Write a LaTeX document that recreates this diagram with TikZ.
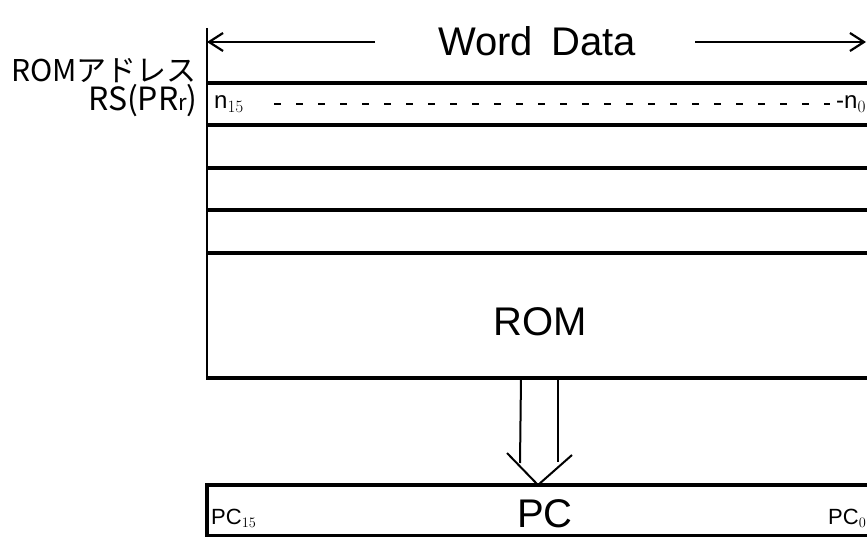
\documentclass[tikz,border=0pt]{standalone}
\usepackage{fontspec}
\setmainfont{Liberation Sans}
\newfontfamily\jpfont{Noto Sans CJK JP}
\usetikzlibrary{arrows.meta}
\tikzset{
  thickline/.style={line width=3.2pt},
  thinline/.style={line width=2pt},
  lbl/.style={inner sep=0pt, anchor=center},
  barb/.style={-{Straight Barb[length=14pt,width=18pt,line width=2.2pt]}, line width=2.2pt}
}
\begin{document}
\begin{tikzpicture}[x=1pt,y=-1pt]
\useasboundingbox (0,0) rectangle (867,537);
% coordinates
\coordinate (tl) at (207,28);
\coordinate (bl) at (207,378);
\coordinate (wl) at (207,42);
\coordinate (wr) at (866,42);
\coordinate (wlend) at (375,42);
\coordinate (wrend) at (695,42);
% left edge of ROM
\draw[thinline] (tl) -- (bl);
% Word Data arrow
\node[lbl] (wd) at (537,41) {\fontsize{40}{40}\selectfont Word\hspace{18pt}Data};
\draw[barb] (wlend) -- (wl);
\draw[barb] (wrend) -- (wr);
% rows
\foreach \y in {83,125,168,210,253,378} {
  \draw[thickline] (206,\y) -- (867,\y);
}
% left labels
\node[lbl, anchor=east] (addr) at (197,71) {\jpfont\fontsize{30}{30}\selectfont ROMアドレス};
\node[lbl, anchor=east] (rs) at (198,101) {\jpfont\fontsize{32}{32}\selectfont RS(PR{\fontsize{22}{22}\selectfont r})};
% n row
\node[lbl, anchor=west] (n15) at (214,104) {\fontsize{24}{24}\selectfont n$_{\scriptstyle 15}$};
\node[lbl, anchor=west] (n0) at (836,104) {\fontsize{24}{24}\selectfont -n$_{\scriptstyle 0}$};
\draw[line width=2.2pt, dash pattern=on 7pt off 15pt] (n15.east) ++(30pt,0) -- ([xshift=-6pt]n0.west);
% ROM label
\node[lbl] (rom) at (540,322) {\fontsize{40}{40}\selectfont ROM};
% hollow arrow
\coordinate (a1) at (521,378);
\coordinate (a2) at (558,378);
\coordinate (a1b) at (520,463);
\coordinate (a2b) at (558,462);
\coordinate (tip) at (538,485);
\draw[thinline] (a1) -- (a1b);
\draw[thinline] (a2) -- (a2b);
\draw[thinline, line join=round] (507,453) -- (tip) -- (572,455);
% PC box
\draw[thickline] (205,485) -- (867,485);
\draw[thickline] (207,485) -- (207,537);
\draw[thickline] (205,535.5) -- (867,535.5);
\node[lbl, anchor=west] (pc15) at (211,518) {\fontsize{22}{22}\selectfont PC$_{\scriptstyle 15}$};
\node[lbl] (pc) at (545,514) {\fontsize{40}{40}\selectfont PC};
\node[lbl, anchor=west] (pc0) at (828,518) {\fontsize{22}{22}\selectfont PC$_{\scriptstyle 0}$};
\end{tikzpicture}
\end{document}
